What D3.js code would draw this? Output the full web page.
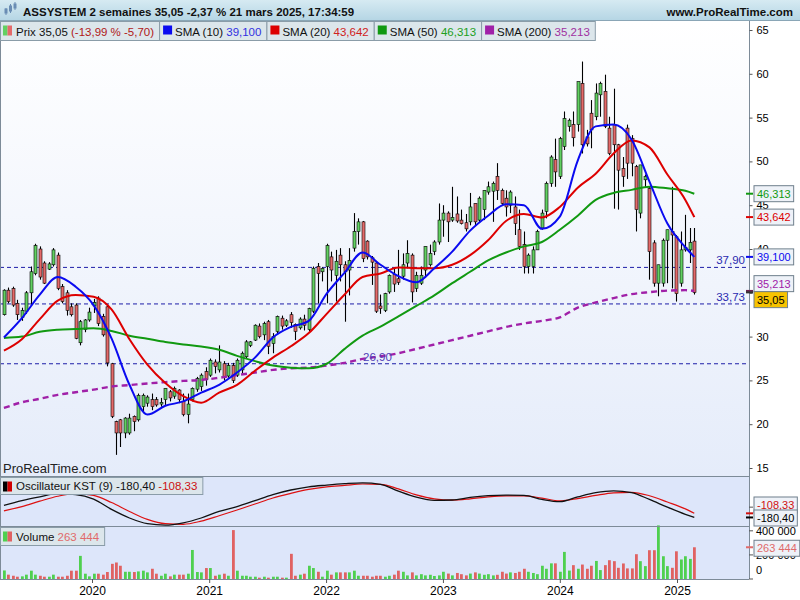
<!DOCTYPE html>
<html>

<head>
    <meta charset="utf-8">
    <title>ASSYSTEM 2 semaines</title>
    <style>
        body {
            margin: 0;
            padding: 0;
            background-color: #ffffff;
            overflow: hidden;
        }

        #container svg {
            display: block;
            font-family: "Liberation Sans", Arial, sans-serif;
        }
    </style>
</head>

<body>
    <div id="container"></div>

    <script src="https://d3js.org/d3.v7.min.js"></script>

    <script>
        // ---- data: two-week bars, the last one starts 24 Feb 2025 ----
        var lastBarDate = new Date(2025, 1, 24);

        var opens = [
            32.5, 35.3, 35.5, 33.8, 32.2, 32.9, 35.0, 37.2, 40.0, 38.4,
            37.7, 38.2, 39.3, 35.7, 35.0, 33.4, 33.6, 29.3, 30.8, 31.9,
            33.5, 34.4, 32.3, 33.4, 26.9, 20.3, 20.5, 19.0, 19.0, 20.9,
            20.5, 22.0, 22.4, 22.8, 22.8, 22.3, 22.8, 23.7, 23.2, 23.9,
            22.6, 21.1, 22.8, 24.0, 24.3, 26.0, 25.6, 27.1, 26.2, 26.9,
            25.5, 26.7, 25.6, 26.2, 27.7, 29.0, 29.6, 31.2, 30.2, 31.7,
            29.2, 30.6, 32.1, 31.3, 32.5, 31.4, 31.0, 32.0, 30.8, 32.9,
            38.0, 37.4, 38.0, 39.1, 37.0, 39.3, 38.2, 37.6, 40.1, 42.0,
            43.1, 40.9, 39.0, 38.4, 33.5, 33.0, 35.1, 37.1, 36.6, 36.9,
            38.4, 39.3, 35.5, 36.1, 37.6, 38.2, 39.7, 40.8, 43.3, 44.1,
            43.3, 44.0, 43.3, 43.0, 43.1, 45.2, 43.3, 44.5, 46.5, 46.6,
            48.3, 46.7, 45.8, 45.0, 44.8, 42.2, 40.5, 38.0, 38.0, 39.9,
            42.4, 44.3, 47.5, 50.2, 48.3, 51.7, 54.0, 54.2, 54.2, 58.9,
            52.8, 55.5, 55.1, 57.6, 58.0, 53.8, 54.2, 51.9, 49.2, 53.8,
            52.6, 49.4, 44.1, 47.9, 46.9, 40.7, 36.1, 36.1, 41.0, 42.0,
            41.4, 36.1, 39.9, 39.9, 40.9
        ];
        var highs = [
            35.4, 35.6, 35.7, 34.2, 33.3, 35.2, 38.0, 40.6, 40.3, 38.6,
            38.5, 40.1, 39.6, 36.0, 35.3, 33.8, 33.8, 31.9, 32.0, 33.3,
            34.3, 34.6, 32.6, 33.6, 27.0, 20.4, 20.6, 20.8, 21.2, 21.0,
            23.5, 23.5, 23.3, 23.5, 23.1, 23.0, 24.1, 23.9, 24.3, 24.0,
            23.5, 23.5, 24.2, 25.4, 25.8, 26.5, 27.5, 27.4, 29.0, 27.2,
            27.0, 27.0, 27.5, 28.3, 29.6, 29.5, 31.4, 31.5, 31.7, 31.9,
            30.4, 32.4, 32.4, 32.0, 32.8, 31.5, 32.2, 32.5, 33.3, 38.0,
            38.4, 37.9, 40.6, 39.7, 39.9, 40.1, 38.6, 40.1, 44.1, 43.5,
            43.2, 41.0, 39.2, 38.6, 34.8, 35.0, 37.1, 37.8, 39.9, 39.5,
            41.0, 39.5, 37.4, 38.0, 40.3, 40.5, 41.0, 45.2, 45.0, 44.3,
            47.1, 46.0, 44.5, 44.0, 46.4, 45.2, 46.0, 46.7, 47.7, 47.7,
            49.8, 46.9, 46.7, 46.7, 46.0, 44.5, 42.0, 39.5, 40.3, 42.2,
            44.5, 47.7, 50.7, 52.6, 52.8, 55.7, 54.9, 55.7, 59.1, 61.4,
            53.6, 57.0, 58.9, 59.1, 59.9, 55.1, 58.3, 52.0, 50.5, 54.2,
            53.0, 49.6, 49.6, 48.5, 47.1, 41.0, 38.2, 41.2, 42.2, 47.1,
            41.6, 42.0, 43.9, 42.4, 42.4
        ];
        var lows = [
            32.4, 33.8, 33.4, 31.9, 31.8, 32.6, 33.5, 37.0, 36.5, 36.0,
            37.6, 38.0, 35.3, 33.8, 32.4, 32.3, 29.7, 29.0, 30.5, 31.7,
            32.7, 31.2, 30.0, 26.6, 20.7, 16.5, 17.4, 18.4, 18.8, 19.2,
            20.3, 21.4, 22.0, 21.6, 22.0, 22.0, 22.2, 22.6, 22.9, 22.4,
            20.9, 20.1, 22.6, 23.7, 23.8, 24.4, 25.4, 25.8, 25.9, 25.0,
            25.3, 24.7, 25.4, 25.8, 27.5, 28.8, 29.5, 29.8, 29.6, 28.0,
            28.1, 30.3, 30.8, 31.1, 31.0, 29.6, 30.8, 30.7, 30.6, 32.7,
            33.8, 36.3, 33.8, 36.3, 34.0, 36.3, 31.7, 34.7, 39.7, 40.5,
            38.5, 38.8, 35.9, 32.7, 32.6, 32.8, 34.9, 35.1, 35.9, 36.5,
            37.8, 33.9, 35.1, 35.9, 36.8, 38.0, 39.3, 40.5, 41.4, 40.8,
            43.1, 43.0, 42.8, 42.0, 42.7, 42.7, 43.0, 43.3, 46.2, 43.1,
            45.6, 45.0, 43.7, 44.1, 41.6, 39.9, 37.2, 37.2, 37.2, 39.9,
            42.2, 43.5, 47.1, 47.1, 48.0, 51.3, 53.4, 51.7, 53.4, 50.9,
            51.7, 51.5, 54.7, 55.1, 53.8, 50.7, 44.6, 44.5, 47.1, 48.0,
            48.3, 42.0, 43.5, 47.0, 36.5, 35.7, 34.6, 35.7, 36.1, 35.5,
            34.0, 35.7, 39.7, 38.4, 34.8
        ];
        var closes = [
            35.3, 34.0, 33.6, 32.5, 33.0, 35.0, 37.4, 40.4, 36.8, 36.1,
            38.3, 39.9, 35.5, 34.0, 33.0, 32.5, 29.8, 31.7, 31.9, 32.8,
            33.9, 31.5, 30.2, 27.0, 20.9, 19.0, 19.0, 20.7, 20.7, 20.3,
            23.3, 23.3, 23.1, 22.0, 22.2, 22.5, 24.1, 23.0, 24.1, 22.8,
            21.1, 22.3, 24.1, 25.2, 25.6, 25.1, 27.3, 26.6, 27.1, 25.4,
            26.7, 25.0, 27.3, 28.1, 29.4, 29.4, 31.3, 30.0, 31.5, 28.9,
            30.0, 32.3, 31.2, 31.8, 31.6, 30.6, 32.0, 31.3, 33.2, 37.8,
            37.2, 37.8, 40.4, 37.6, 38.6, 38.2, 37.4, 38.7, 42.0, 43.1,
            38.9, 39.1, 38.5, 32.9, 33.2, 34.9, 37.0, 36.0, 36.2, 38.2,
            39.5, 35.1, 37.0, 37.0, 40.3, 39.5, 40.8, 43.3, 44.1, 43.1,
            43.6, 43.2, 42.9, 42.3, 44.8, 43.1, 45.8, 46.7, 47.1, 47.5,
            46.7, 45.2, 44.8, 46.5, 42.9, 40.3, 38.0, 39.3, 39.9, 42.0,
            44.1, 47.5, 50.5, 48.8, 52.6, 54.9, 54.7, 52.7, 59.1, 51.9,
            52.0, 53.6, 57.8, 58.9, 54.0, 50.9, 51.9, 49.0, 48.3, 49.8,
            49.8, 44.5, 49.6, 48.3, 39.7, 36.1, 38.2, 41.0, 42.2, 41.6,
            34.9, 39.9, 40.2, 40.75, 35.05
        ];
        var volumes = [
            71000, 36000, 27000, 19000, 22000, 36000, 69000, 36000, 27000, 19000,
            19000, 36000, 19000, 19000, 27000, 69000, 69000, 192000, 44000, 22000,
            44000, 44000, 36000, 58000, 126000, 137000, 110000, 60000, 60000, 58000,
            63000, 69000, 55000, 85000, 44000, 27000, 44000, 22000, 36000, 36000,
            36000, 44000, 241000, 58000, 55000, 91000, 91000, 27000, 36000, 44000,
            27000, 406000, 69000, 27000, 27000, 19000, 19000, 11000, 19000, 11000,
            19000, 19000, 11000, 11000, 209000, 27000, 36000, 44000, 110000, 91000,
            60000, 19000, 69000, 36000, 55000, 55000, 55000, 55000, 69000, 27000,
            27000, 27000, 19000, 27000, 27000, 19000, 27000, 36000, 69000, 60000,
            30000, 55000, 30000, 40000, 30000, 35000, 25000, 30000, 60000, 45000,
            30000, 50000, 40000, 30000, 45000, 55000, 45000, 35000, 40000, 30000,
            35000, 60000, 45000, 55000, 50000, 60000, 85000, 60000, 50000, 40000,
            110000, 85000, 130000, 130000, 60000, 225000, 70000, 115000, 85000, 120000,
            85000, 110000, 150000, 74000, 115000, 156000, 148000, 93000, 129000, 88000,
            88000, 206000, 148000, 107000, 239000, 239000, 445000, 189000, 107000, 93000,
            230000, 162000, 189000, 167000, 263444
        ];

        // indicator lines, read every 4th bar (plus the last bar)
        var lineIdx = [0, 4, 8, 12, 16, 20, 24, 28, 32, 36, 40, 44, 48, 52, 56, 60, 64, 68, 72, 76,
            80, 84, 88, 92, 96, 100, 104, 108, 112, 116, 120, 124, 128, 132, 136, 140, 144, 148, 152, 154];
        var sma10 = [29.9, 32.1, 34.8, 36.8, 35.7, 33.6, 29.8, 24.5, 21.1, 22.1, 22.6, 23.6, 24.5, 25.9, 27.6, 29.9,
            31.1, 31.8, 34.9, 37.3, 39.6, 38.2, 36.9, 36.2, 37.8, 39.7, 42.1, 43.8, 45.1, 45.0, 42.3, 43.7,
            50.1, 54.0, 54.2, 52.5, 47.7, 42.9, 40.2, 39.1];
        var sma20 = [28.4, 29.7, 32.0, 34.1, 34.75, 34.55, 33.1, 29.7, 26.8, 24.7, 23.2, 22.45, 23.6, 24.5, 26.1,
            27.6, 28.9, 30.4, 32.6, 34.8, 36.8, 37.2, 37.9, 37.8, 37.8, 38.2, 39.3, 41.0, 43.2, 44.0, 43.6,
            44.8, 47.0, 48.6, 50.9, 52.4, 51.6, 48.5, 45.6, 43.642];
        var sma50 = [29.85, 30.0, 30.55, 30.78, 30.86, 30.94, 30.65, 30.1, 29.75, 29.38, 29.1, 28.87, 28.5, 27.8,
            27.2, 26.7, 26.45, 26.38, 26.9, 28.6, 30.1, 31.14, 32.3, 33.5, 34.7, 36.1, 37.4, 38.7, 39.6, 40.3,
            40.8, 42.2, 43.8, 45.6, 46.4, 46.75, 47.12, 46.93, 46.65, 46.313];
        var sma200 = [21.85, 22.5, 22.9, 23.35, 23.65, 23.95, 24.3, 24.47, 24.65, 24.8, 24.94, 25.05, 25.3, 25.6,
            25.9, 26.2, 26.38, 26.46, 26.7, 27.0, 27.45, 27.75, 28.1, 28.6, 29.1, 29.6, 30.1, 30.6, 31.1, 31.5,
            31.8, 32.2, 33.3, 33.9, 34.4, 34.85, 35.08, 35.25, 35.3, 35.213];
        var kst = [30, 115, 180, 235, 220, 140, -40, -190, -290, -315, -275, -190, -75, 10, 115, 220, 300, 355,
            385, 410, 426, 400, 280, 175, 120, 125, 170, 200, 210, 205, 135, 95, 180, 255, 286, 255, 135, 0,
            -125, -180.40];
        var kstSignal = [-65, 10, 105, 190, 235, 205, 80, -75, -215, -290, -300, -245, -150, -50, 55, 160, 240,
            310, 355, 380, 405, 400, 320, 215, 145, 123, 145, 180, 198, 198, 158, 112, 150, 205, 250, 260, 200,
            90, -30, -108.33];

        var priceTicks = [15, 20, 25, 30, 35, 40, 45, 50, 55, 60, 65];
        var volumeTicks = [0, 200000, 400000];
        var yearTicks = [2020, 2021, 2022, 2023, 2024, 2025];
        var levels = [37.90, 33.73, 26.90];

        // ---- layout ----
        var width = 800, height = 600;
        var plotRight = 749;
        var pricePane = { top: 21, bottom: 476 };
        var kstPane = { top: 476, bottom: 526 };
        var volPane = { top: 526, bottom: 579 };

        var upColor = "#62d062", downColor = "#e46a6a";
        var volUp = "#4fd04f", volDown = "#e06262";
        var c10 = "#0a0af0", c20 = "#dd0000", c50 = "#119911", c200 = "#a020a8";

        var nBars = closes.length;
        var dates = closes.map(function (d, i) {
            return d3.timeDay.offset(lastBarDate, -14 * (nBars - 1 - i));
        });

        var x = d3.scaleTime()
            .domain([new Date(2020, 0, 1), new Date(2025, 0, 1)])
            .range([92, 677]);
        var y = d3.scaleLinear().domain([15, 65]).range([468, 30]);
        var yK = d3.scaleLinear().domain([-330, 545]).range([kstPane.bottom, kstPane.top]);
        var yV = d3.scaleLinear().domain([0, 440000]).range([volPane.bottom, volPane.top]);

        var fr = function (v, n) { return v.toFixed(n).replace(".", ","); };
        var frThousands = function (v) { return d3.format(",")(v).replace(/,/g, " "); };

        var svg = d3.select("#container").append("svg")
            .attr("width", width)
            .attr("height", height);

        var defs = svg.append("defs");
        var hdrGrad = defs.append("linearGradient").attr("id", "hdrGrad")
            .attr("x1", 0).attr("y1", 0).attr("x2", 0).attr("y2", 1);
        hdrGrad.append("stop").attr("offset", "0%").attr("stop-color", "#d6eaf2");
        hdrGrad.append("stop").attr("offset", "100%").attr("stop-color", "#b4d5e4");
        var bgGrad = defs.append("linearGradient").attr("id", "bgGrad")
            .attr("x1", 0).attr("y1", 0).attr("x2", 0).attr("y2", 1);
        bgGrad.append("stop").attr("offset", "0%").attr("stop-color", "#ffffff");
        bgGrad.append("stop").attr("offset", "100%").attr("stop-color", "#e5ecfa");
        defs.append("clipPath").attr("id", "plotClip")
            .append("rect")
            .attr("x", 0).attr("y", pricePane.top)
            .attr("width", plotRight).attr("height", volPane.bottom - pricePane.top);

        // backgrounds
        svg.append("rect").attr("x", 0).attr("y", 0).attr("width", width).attr("height", height)
            .style("fill", "#ffffff");
        svg.append("rect").attr("x", 0).attr("y", pricePane.top)
            .attr("width", plotRight).attr("height", pricePane.bottom - pricePane.top)
            .style("fill", "url(#bgGrad)");
        svg.append("rect").attr("x", 0).attr("y", kstPane.top)
            .attr("width", plotRight).attr("height", volPane.bottom - kstPane.top)
            .style("fill", "#dde6fa");

        var plot = svg.append("g").attr("clip-path", "url(#plotClip)");

        // horizontal levels
        plot.selectAll("line.level")
            .data(levels)
            .enter().append("line")
            .attr("class", "level")
            .attr("x1", 0).attr("x2", plotRight)
            .attr("y1", function (d) { return y(d); })
            .attr("y2", function (d) { return y(d); })
            .style("stroke", "#1e1ea8")
            .style("stroke-width", 1)
            .style("stroke-dasharray", "4,3");

        // candles
        var candle = plot.selectAll("g.candle")
            .data(closes)
            .enter().append("g")
            .attr("class", "candle");
        candle.append("line")
            .attr("x1", function (d, i) { return Math.round(x(dates[i])) + 0.5; })
            .attr("x2", function (d, i) { return Math.round(x(dates[i])) + 0.5; })
            .attr("y1", function (d, i) { return y(highs[i]); })
            .attr("y2", function (d, i) { return y(lows[i]); })
            .style("stroke", "#000")
            .style("stroke-width", 1.1);
        candle.append("rect")
            .attr("x", function (d, i) { return Math.round(x(dates[i])) - 1; })
            .attr("width", 3)
            .attr("y", function (d, i) { return y(Math.max(opens[i], closes[i])); })
            .attr("height", function (d, i) { return Math.max(1, Math.abs(y(opens[i]) - y(closes[i]))); })
            .style("fill", function (d, i) { return closes[i] >= opens[i] ? upColor : downColor; })
            .style("stroke", "#000")
            .style("stroke-width", 0.6);

        // moving averages
        function pts(arr) {
            return lineIdx.map(function (idx, k) { return { d: dates[idx], v: arr[k] }; });
        }
        var maLine = d3.line()
            .x(function (p) { return x(p.d); })
            .y(function (p) { return y(p.v); })
            .curve(d3.curveMonotoneX);

        plot.append("path").datum(pts(sma200)).attr("d", maLine)
            .style("fill", "none").style("stroke", c200).style("stroke-width", 2.4)
            .style("stroke-dasharray", "6,4");
        plot.append("path").datum(pts(sma50)).attr("d", maLine)
            .style("fill", "none").style("stroke", c50).style("stroke-width", 2);
        plot.append("path").datum(pts(sma20)).attr("d", maLine)
            .style("fill", "none").style("stroke", c20).style("stroke-width", 2);
        plot.append("path").datum(pts(sma10)).attr("d", maLine)
            .style("fill", "none").style("stroke", c10).style("stroke-width", 2);

        // level labels
        svg.append("text").attr("x", 745).attr("y", y(37.90) - 3).attr("text-anchor", "end")
            .style("font-size", "11.5px").style("fill", "#2a2ab0").text(fr(37.90, 2));
        svg.append("text").attr("x", 745).attr("y", y(33.73) - 3).attr("text-anchor", "end")
            .style("font-size", "11.5px").style("fill", "#2a2ab0").text(fr(33.73, 2));
        svg.append("text").attr("x", 363).attr("y", y(26.90) - 3)
            .style("font-size", "11.5px").style("fill", "#5040b8").text(fr(26.90, 2));

        svg.append("text").attr("x", 3).attr("y", 473)
            .style("font-size", "13px").style("fill", "#222").text("ProRealTime.com");

        // KST
        var kLine = d3.line()
            .x(function (p) { return x(p.d); })
            .y(function (p) { return yK(p.v); })
            .curve(d3.curveMonotoneX);
        plot.append("path").datum(pts(kstSignal)).attr("d", kLine)
            .style("fill", "none").style("stroke", "#dd1111").style("stroke-width", 1.2);
        plot.append("path").datum(pts(kst)).attr("d", kLine)
            .style("fill", "none").style("stroke", "#111").style("stroke-width", 1.3);

        // volume
        plot.selectAll("rect.vol")
            .data(volumes)
            .enter().append("rect")
            .attr("class", "vol")
            .attr("x", function (d, i) { return Math.round(x(dates[i])) - 1; })
            .attr("width", 2.8)
            .attr("y", function (d) { return yV(d); })
            .attr("height", function (d) { return volPane.bottom - yV(d); })
            .style("fill", function (d, i) { return closes[i] >= opens[i] ? volUp : volDown; });

        // frames
        var frame = svg.append("g").style("stroke", "#7d8b98").style("stroke-width", 1);
        frame.append("line").attr("x1", plotRight + 0.5).attr("x2", plotRight + 0.5)
            .attr("y1", pricePane.top).attr("y2", volPane.bottom);
        frame.append("line").attr("x1", 0.5).attr("x2", 0.5)
            .attr("y1", pricePane.top).attr("y2", volPane.bottom);
        [kstPane.top, volPane.top, volPane.bottom].forEach(function (yy) {
            frame.append("line").attr("x1", 0).attr("x2", plotRight)
                .attr("y1", yy + 0.5).attr("y2", yy + 0.5);
        });

        // right price axis (the 35 label sits under the value boxes, so only its tick is kept)
        var axisG = svg.append("g")
            .attr("transform", "translate(" + (plotRight + 0.5) + ",0)")
            .call(d3.axisRight(y).tickValues(priceTicks).tickSize(3).tickPadding(4)
                .tickFormat(function (d) { return d === 35 ? "" : d; }));
        axisG.select(".domain").remove();
        axisG.selectAll("text").style("font-size", "11px").style("font-family", "Liberation Sans, Arial, sans-serif");
        axisG.selectAll("line").style("stroke", "#555");

        // KST zero tick
        svg.append("line").attr("x1", plotRight).attr("x2", plotRight + 4)
            .attr("y1", yK(0)).attr("y2", yK(0)).style("stroke", "#555");

        // volume axis
        volumeTicks.forEach(function (v) {
            svg.append("line").attr("x1", plotRight).attr("x2", plotRight + 4)
                .attr("y1", yV(v)).attr("y2", yV(v)).style("stroke", "#555");
            svg.append("text").attr("x", plotRight + 7)
                .attr("y", Math.min(yV(v), volPane.bottom - 9) + 4)
                .style("font-size", "11px").text(frThousands(v));
        });

        // x axis
        var xAxisG = svg.append("g")
            .attr("transform", "translate(0," + volPane.bottom + ")")
            .call(d3.axisBottom(x)
                .tickValues(yearTicks.map(function (yr) { return new Date(yr, 0, 1); }))
                .tickFormat(d3.timeFormat("%Y"))
                .tickSize(4).tickPadding(3));
        xAxisG.select(".domain").remove();
        xAxisG.selectAll("text").style("font-size", "12px").style("font-family", "Liberation Sans, Arial, sans-serif");
        xAxisG.selectAll("line").style("stroke", "#555");

        // value boxes on the right axis
        function spread(items, gap, maxY) {
            items.sort(function (a, b) { return a.y - b.y; });
            for (var k = 0; k < 30; k++) {
                for (var j = 1; j < items.length; j++) {
                    var d = items[j].y - items[j - 1].y;
                    if (d < gap) {
                        items[j - 1].y -= (gap - d) / 2;
                        items[j].y += (gap - d) / 2;
                    }
                }
            }
            if (maxY !== undefined) {
                var over = items[items.length - 1].y - maxY;
                if (over > 0) items.forEach(function (it) { it.y -= over; });
            }
            return items;
        }
        function valueBox(item) {
            svg.append("line").attr("x1", plotRight - 3).attr("x2", plotRight + 4)
                .attr("y1", item.y0).attr("y2", item.y0)
                .style("stroke", item.tick).style("stroke-width", 2);
            var g = svg.append("g");
            var r = g.append("rect").attr("x", plotRight + 5).attr("y", item.y - 8)
                .attr("height", 16)
                .style("fill", item.bg).style("stroke", "#6f7f8c").style("stroke-width", 1);
            var t = g.append("text").attr("x", plotRight + 8).attr("y", item.y + 4)
                .style("font-size", "11px").style("fill", item.color).text(item.text);
            r.attr("width", t.node().getComputedTextLength() + 6);
        }
        var priceBoxes = spread([
            { y0: y(46.313), y: y(46.313), text: fr(46.313, 3), color: c50, tick: c50, bg: "#eef2f8" },
            { y0: y(43.642), y: y(43.642), text: fr(43.642, 3), color: c20, tick: c20, bg: "#eef2f8" },
            { y0: y(39.100), y: y(39.100), text: fr(39.100, 3), color: c10, tick: c10, bg: "#eef2f8" },
            { y0: y(35.213), y: y(35.213), text: fr(35.213, 3), color: c200, tick: "#6a2050", bg: "#eef2f8" },
            { y0: y(35.05), y: y(35.05), text: fr(35.05, 2), color: "#000", tick: "#333", bg: "#f7c300" }
        ], 16);
        priceBoxes.forEach(valueBox);

        var kstBoxes = spread([
            { y0: yK(-108.33), y: yK(-108.33), text: fr(-108.33, 2), color: "#d01010", tick: "#d01010", bg: "#eef2f8" },
            { y0: yK(-180.40), y: yK(-180.40), text: fr(-180.40, 2), color: "#000", tick: "#000", bg: "#eef2f8" }
        ], 13, kstPane.bottom - 8);
        kstBoxes.forEach(valueBox);
        valueBox({ y0: yV(263444), y: yV(263444) + 1, text: frThousands(263444), color: "#e06a6a", tick: "#e06a6a", bg: "#eef2f8" });

        // header
        svg.append("rect").attr("x", 0).attr("y", 0).attr("width", width).attr("height", pricePane.top)
            .style("fill", "url(#hdrGrad)");
        svg.append("line").attr("x1", 0).attr("x2", width).attr("y1", pricePane.top - 0.5).attr("y2", pricePane.top - 0.5)
            .style("stroke", "#8aa6b6");
        var icon = svg.append("g").style("fill", "#6a8db4").style("stroke", "#6a8db4");
        [[5, 8, 15, 9, 13], [9.5, 4, 13, 6, 11], [14, 2, 10, 4, 8]].forEach(function (c) {
            icon.append("line").attr("x1", c[0] + 1).attr("x2", c[0] + 1).attr("y1", c[1]).attr("y2", c[2]);
            icon.append("rect").attr("x", c[0]).attr("y", c[3]).attr("width", 2).attr("height", c[4] - c[3]);
        });
        svg.append("text").attr("x", 23).attr("y", 16)
            .style("font-size", "11.5px").style("font-weight", "bold").style("fill", "#111")
            .text("ASSYSTEM 2 semaines 35,05 -2,37 % 21 mars 2025, 17:34:59");
        svg.append("text").attr("x", 793).attr("y", 16).attr("text-anchor", "end")
            .style("font-size", "11.5px").style("font-weight", "bold").style("fill", "#111")
            .text("www.ProRealTime.com");

        // legends
        function legend(x0, yTop, h, parts, drawIcon) {
            var g = svg.append("g");
            var box = g.append("rect").attr("x", x0 + 0.5).attr("y", yTop + 0.5).attr("height", h)
                .style("fill", "#dce6eb").style("stroke", "#8a9ca8");
            drawIcon(g, x0 + 3, yTop + 4.5);
            var t = g.append("text").attr("x", x0 + 16).attr("y", yTop + h - 4.5)
                .style("font-size", "11.5px");
            parts.forEach(function (p) {
                t.append("tspan").style("fill", p[1]).text(p[0]);
            });
            var w = 16 + t.node().getComputedTextLength() + 5;
            box.attr("width", w);
            return x0 + w;
        }
        function splitIcon(c1, c2) {
            return function (g, ix, iy) {
                g.append("rect").attr("x", ix).attr("y", iy).attr("width", 4.5).attr("height", 10).style("fill", c1);
                g.append("rect").attr("x", ix + 4.5).attr("y", iy).attr("width", 4.5).attr("height", 10).style("fill", c2);
            };
        }
        function squareIcon(c) {
            return function (g, ix, iy) {
                g.append("rect").attr("x", ix + 1).attr("y", iy).attr("width", 9).attr("height", 9).style("fill", c);
            };
        }
        var lx = 0;
        lx = legend(lx, 21, 19, [["Prix 35,05 ", "#111"], ["(-13,99 % -5,70)", "#b01818"]], splitIcon(upColor, downColor));
        lx = legend(lx, 21, 19, [["SMA (10) ", "#111"], ["39,100", "#3030e0"]], squareIcon(c10));
        lx = legend(lx, 21, 19, [["SMA (20) ", "#111"], ["43,642", "#d02020"]], squareIcon(c20));
        lx = legend(lx, 21, 19, [["SMA (50) ", "#111"], ["46,313", "#20a020"]], squareIcon(c50));
        lx = legend(lx, 21, 19, [["SMA (200) ", "#111"], ["35,213", "#a030a0"]], squareIcon(c200));

        legend(0, kstPane.top + 1, 17, [["Oscillateur KST (9) -180,40 ", "#111"], ["-108,33", "#cc1010"]],
            splitIcon("#000", "#d00000"));
        legend(0, volPane.top + 1, 18, [["Volume ", "#111"], ["263 444", "#e06a6a"]],
            splitIcon(volUp, volDown));
    </script>
</body>

</html>
